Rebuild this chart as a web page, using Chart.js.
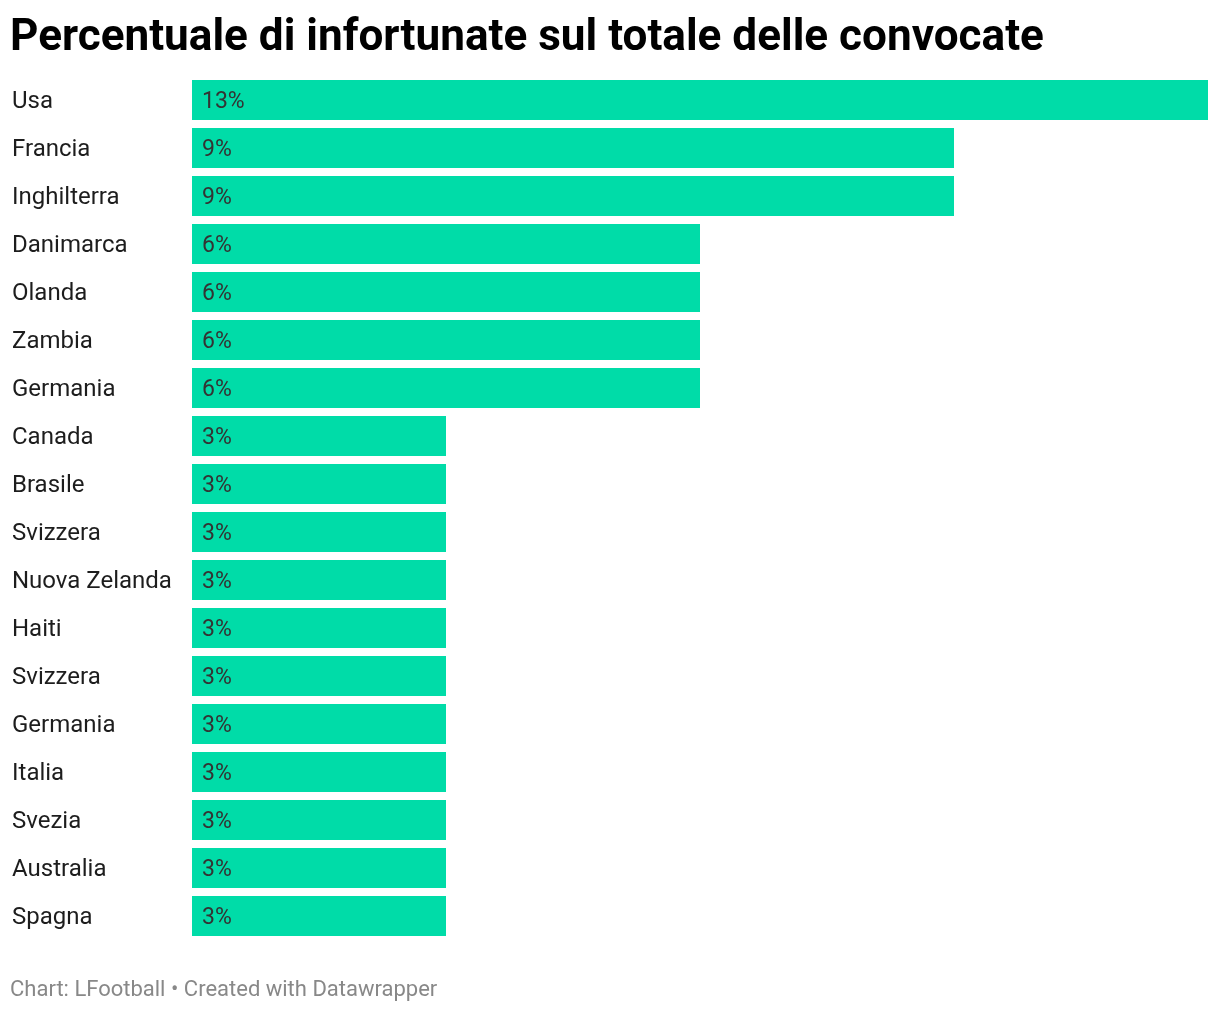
<!DOCTYPE html>
<html>
<head>
<meta charset="utf-8">
<script src="https://cdn.jsdelivr.net/npm/chart.js@4/dist/chart.umd.min.js"></script>
<style>
  html, body { margin: 0; padding: 0; background: #fff; }
  body { width: 1220px; height: 1012px; position: relative; overflow: hidden; font-family: Roboto, sans-serif; }
  #title { position: absolute; left: 10px; top: 9px; font-size: 44.1px; font-weight: 700; color: #000; white-space: nowrap; }
  #footer { position: absolute; left: 10px; top: 976px; font-size: 22px; color: #888; white-space: nowrap; }
  #wrap { position: absolute; left: 0; top: 0; width: 1220px; height: 1012px; }
</style>
</head>
<body>
<div id="wrap"><canvas id="c" width="1220" height="1012"></canvas></div>
<div id="title">Percentuale di infortunate sul totale delle convocate</div>
<div id="footer">Chart: LFootball • Created with Datawrapper</div>
<script>
const categories = ["Usa","Francia","Inghilterra","Danimarca","Olanda","Zambia","Germania","Canada","Brasile","Svizzera","Nuova Zelanda","Haiti","Svizzera","Germania","Italia","Svezia","Australia","Spagna"];
const values = [12.5, 9.375, 9.375, 6.25, 6.25, 6.25, 6.25, 3.125, 3.125, 3.125, 3.125, 3.125, 3.125, 3.125, 3.125, 3.125, 3.125, 3.125];
const valueLabels = ["13%","9%","9%","6%","6%","6%","6%","3%","3%","3%","3%","3%","3%","3%","3%","3%","3%","3%"];

const barLabelPlugin = {
  id: 'barLabels',
  afterDatasetsDraw(chart) {
    const ctx = chart.ctx;
    const meta = chart.getDatasetMeta(0);
    ctx.save();
    ctx.font = '23px Roboto, sans-serif';
    ctx.fillStyle = '#333333';
    ctx.textAlign = 'left';
    ctx.textBaseline = 'middle';
    meta.data.forEach((bar, i) => {
      ctx.fillText(valueLabels[i], bar.base + 10, bar.y + 2);
    });
    ctx.restore();
  }
};

new Chart(document.getElementById('c'), {
  type: 'bar',
  data: {
    labels: categories,
    datasets: [{
      data: values,
      backgroundColor: '#00dca8',
      borderWidth: 0,
      barPercentage: 1,
      categoryPercentage: 40/48
    }]
  },
  options: {
    indexAxis: 'y',
    responsive: false,
    animation: false,
    layout: { padding: { left: 12, top: 76, right: 12, bottom: 72 } },
    plugins: { legend: { display: false }, tooltip: { enabled: false }, title: { display: false } },
    scales: {
      x: { display: false, min: 0, max: 12.5 },
      y: {
        grid: { display: false },
        border: { display: false },
        ticks: { crossAlign: 'far', color: '#1d1d1d', font: { family: 'Roboto', size: 24 }, padding: 0, labelOffset: 2 },
        afterFit(scale) { scale.width = 180; }
      }
    }
  },
  plugins: [barLabelPlugin]
});
</script>
</body>
</html>
